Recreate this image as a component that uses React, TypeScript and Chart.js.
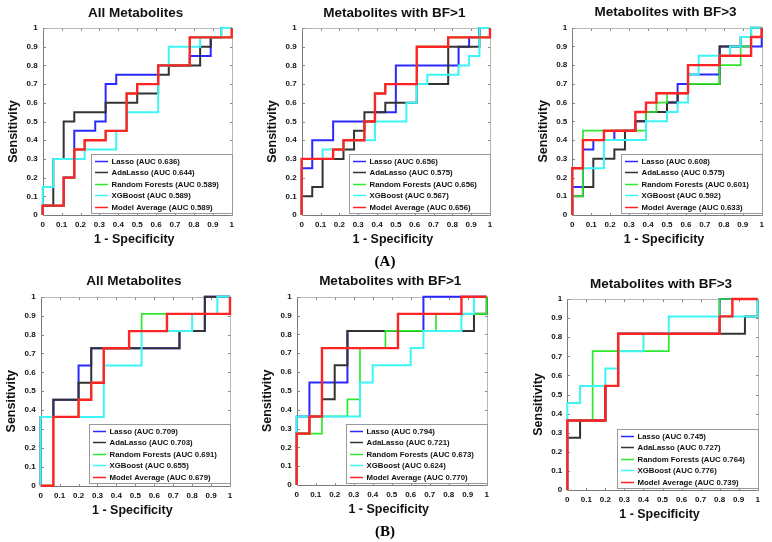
import React, { useEffect, useRef } from 'react';
import { Chart, registerables } from 'chart.js';

Chart.register(...registerables);

type Pt = [number, number];

// ---------- text / categories ----------
const TICK_LABELS = ['0', '0.1', '0.2', '0.3', '0.4', '0.5', '0.6', '0.7', '0.8', '0.9', '1'];
const MODEL_NAMES = ['Lasso', 'AdaLasso', 'Random Forests', 'XGBoost', 'Model Average'];
const PANEL_TITLES = [
  'All Metabolites', 'Metabolites with BF>1', 'Metabolites with BF>3',
  'All Metabolites', 'Metabolites with BF>1', 'Metabolites with BF>3',
];
const X_TITLE = '1 - Specificity';
const Y_TITLE = 'Sensitivity';

// ---------- AUC values (legend order) ----------
const AUC_A1 = [0.636, 0.644, 0.589, 0.589, 0.589];
const AUC_A2 = [0.656, 0.575, 0.656, 0.567, 0.656];
const AUC_A3 = [0.608, 0.575, 0.601, 0.592, 0.633];
const AUC_B1 = [0.709, 0.703, 0.691, 0.655, 0.679];
const AUC_B2 = [0.794, 0.721, 0.673, 0.624, 0.770];
const AUC_B3 = [0.745, 0.727, 0.764, 0.776, 0.739];

// ---------- ROC curves: [1 - specificity, sensitivity] ----------
// (A) All Metabolites
const A1_LASSO: Pt[] = [[0, 0], [0, 0.05], [0.111, 0.05], [0.111, 0.2], [0.167, 0.2], [0.167, 0.45], [0.278, 0.45], [0.278, 0.5], [0.333, 0.5], [0.333, 0.7], [0.389, 0.7], [0.389, 0.75], [0.611, 0.75], [0.611, 0.8], [0.778, 0.8], [0.778, 0.85], [0.889, 0.85], [0.889, 0.95], [0.944, 0.95], [0.944, 1], [1, 1]];
const A1_ADA: Pt[] = [[0, 0], [0, 0.05], [0.056, 0.05], [0.056, 0.3], [0.111, 0.3], [0.111, 0.5], [0.167, 0.5], [0.167, 0.55], [0.333, 0.55], [0.333, 0.6], [0.5, 0.6], [0.5, 0.65], [0.611, 0.65], [0.611, 0.75], [0.667, 0.75], [0.667, 0.8], [0.833, 0.8], [0.833, 0.9], [0.889, 0.9], [0.889, 0.95], [0.944, 0.95], [0.944, 1], [1, 1]];
const A1_RF: Pt[] = [[0, 0], [0, 0.05], [0.111, 0.05], [0.111, 0.2], [0.167, 0.2], [0.167, 0.35], [0.222, 0.35], [0.222, 0.4], [0.333, 0.4], [0.333, 0.45], [0.444, 0.45], [0.444, 0.65], [0.5, 0.65], [0.5, 0.7], [0.611, 0.7], [0.611, 0.8], [0.778, 0.8], [0.778, 0.95], [1, 0.95], [1, 1]];
const A1_XGB: Pt[] = [[0, 0], [0, 0.15], [0.056, 0.15], [0.056, 0.3], [0.222, 0.3], [0.222, 0.35], [0.389, 0.35], [0.389, 0.45], [0.444, 0.45], [0.444, 0.55], [0.611, 0.55], [0.611, 0.8], [0.667, 0.8], [0.667, 0.9], [0.833, 0.9], [0.833, 0.95], [0.944, 0.95], [0.944, 1], [1, 1]];
const A1_AVG: Pt[] = [[0, 0], [0, 0.05], [0.111, 0.05], [0.111, 0.2], [0.167, 0.2], [0.167, 0.35], [0.222, 0.35], [0.222, 0.4], [0.333, 0.4], [0.333, 0.45], [0.444, 0.45], [0.444, 0.65], [0.5, 0.65], [0.5, 0.7], [0.611, 0.7], [0.611, 0.8], [0.778, 0.8], [0.778, 0.95], [1, 0.95], [1, 1]];

// (A) BF>1
const A2_LASSO: Pt[] = [[0, 0], [0, 0.25], [0.056, 0.25], [0.056, 0.4], [0.167, 0.4], [0.167, 0.5], [0.389, 0.5], [0.389, 0.55], [0.5, 0.55], [0.5, 0.8], [0.833, 0.8], [0.833, 0.9], [0.889, 0.9], [0.889, 0.95], [0.944, 0.95], [0.944, 1], [1, 1]];
const A2_ADA: Pt[] = [[0, 0], [0, 0.1], [0.056, 0.1], [0.056, 0.15], [0.111, 0.15], [0.111, 0.3], [0.222, 0.3], [0.222, 0.35], [0.278, 0.35], [0.278, 0.45], [0.333, 0.45], [0.333, 0.55], [0.444, 0.55], [0.444, 0.6], [0.611, 0.6], [0.611, 0.7], [0.778, 0.7], [0.778, 0.9], [0.944, 0.9], [0.944, 1], [1, 1]];
const A2_RF: Pt[] = [[0, 0], [0, 0.3], [0.167, 0.3], [0.167, 0.35], [0.222, 0.35], [0.222, 0.4], [0.333, 0.4], [0.333, 0.5], [0.389, 0.5], [0.389, 0.65], [0.444, 0.65], [0.444, 0.7], [0.611, 0.7], [0.611, 0.9], [0.778, 0.9], [0.778, 0.95], [1, 0.95], [1, 1]];
const A2_XGB: Pt[] = [[0, 0], [0, 0.3], [0.111, 0.3], [0.111, 0.35], [0.222, 0.35], [0.222, 0.4], [0.389, 0.4], [0.389, 0.5], [0.556, 0.5], [0.556, 0.6], [0.611, 0.6], [0.611, 0.7], [0.667, 0.7], [0.667, 0.75], [0.833, 0.75], [0.833, 0.8], [0.889, 0.8], [0.889, 0.85], [0.944, 0.85], [0.944, 1], [1, 1]];
const A2_AVG: Pt[] = [[0, 0], [0, 0.3], [0.167, 0.3], [0.167, 0.35], [0.222, 0.35], [0.222, 0.4], [0.333, 0.4], [0.333, 0.5], [0.389, 0.5], [0.389, 0.65], [0.444, 0.65], [0.444, 0.7], [0.611, 0.7], [0.611, 0.9], [0.778, 0.9], [0.778, 0.95], [1, 0.95], [1, 1]];

// (A) BF>3
const A3_LASSO: Pt[] = [[0, 0], [0, 0.15], [0.056, 0.15], [0.056, 0.35], [0.111, 0.35], [0.111, 0.4], [0.222, 0.4], [0.222, 0.45], [0.333, 0.45], [0.333, 0.5], [0.389, 0.5], [0.389, 0.55], [0.5, 0.55], [0.5, 0.6], [0.556, 0.6], [0.556, 0.7], [0.611, 0.7], [0.611, 0.75], [0.778, 0.75], [0.778, 0.9], [1, 0.9], [1, 1]];
const A3_ADA: Pt[] = [[0, 0], [0, 0.1], [0.056, 0.1], [0.056, 0.15], [0.111, 0.15], [0.111, 0.3], [0.222, 0.3], [0.222, 0.35], [0.278, 0.35], [0.278, 0.45], [0.333, 0.45], [0.333, 0.5], [0.389, 0.5], [0.389, 0.55], [0.5, 0.55], [0.5, 0.6], [0.556, 0.6], [0.556, 0.65], [0.611, 0.65], [0.611, 0.7], [0.778, 0.7], [0.778, 0.9], [0.889, 0.9], [0.889, 0.95], [0.944, 0.95], [0.944, 1], [1, 1]];
const A3_RF: Pt[] = [[0, 0], [0, 0.1], [0.056, 0.1], [0.056, 0.45], [0.389, 0.45], [0.389, 0.55], [0.444, 0.55], [0.444, 0.6], [0.5, 0.6], [0.5, 0.65], [0.611, 0.65], [0.611, 0.7], [0.778, 0.7], [0.778, 0.8], [0.889, 0.8], [0.889, 0.9], [0.944, 0.9], [0.944, 0.95], [1, 0.95], [1, 1]];
const A3_XGB: Pt[] = [[0, 0], [0, 0.25], [0.167, 0.25], [0.167, 0.4], [0.389, 0.4], [0.389, 0.5], [0.5, 0.5], [0.5, 0.55], [0.556, 0.55], [0.556, 0.6], [0.611, 0.6], [0.611, 0.75], [0.667, 0.75], [0.667, 0.85], [0.833, 0.85], [0.833, 0.9], [0.889, 0.9], [0.889, 0.95], [0.944, 0.95], [0.944, 1], [1, 1]];
const A3_AVG: Pt[] = [[0, 0], [0, 0.25], [0.056, 0.25], [0.056, 0.4], [0.167, 0.4], [0.167, 0.45], [0.333, 0.45], [0.333, 0.55], [0.389, 0.55], [0.389, 0.6], [0.444, 0.6], [0.444, 0.65], [0.611, 0.65], [0.611, 0.8], [0.778, 0.8], [0.778, 0.85], [0.944, 0.85], [0.944, 0.95], [1, 0.95], [1, 1]];

// (B) All Metabolites
const B1_LASSO: Pt[] = [[0, 0], [0, 0.364], [0.067, 0.364], [0.067, 0.455], [0.2, 0.455], [0.2, 0.636], [0.267, 0.636], [0.267, 0.727], [0.733, 0.727], [0.733, 0.818], [0.867, 0.818], [0.867, 1], [1, 1]];
const B1_ADA: Pt[] = [[0, 0], [0, 0.364], [0.067, 0.364], [0.067, 0.455], [0.2, 0.455], [0.2, 0.545], [0.267, 0.545], [0.267, 0.727], [0.733, 0.727], [0.733, 0.818], [0.867, 0.818], [0.867, 1], [1, 1]];
const B1_RF: Pt[] = [[0, 0], [0.067, 0], [0.067, 0.364], [0.2, 0.364], [0.2, 0.455], [0.267, 0.455], [0.267, 0.545], [0.333, 0.545], [0.333, 0.727], [0.467, 0.727], [0.467, 0.818], [0.533, 0.818], [0.533, 0.909], [1, 0.909], [1, 1]];
const B1_XGB: Pt[] = [[0, 0], [0, 0.364], [0.333, 0.364], [0.333, 0.636], [0.533, 0.636], [0.533, 0.818], [0.8, 0.818], [0.8, 0.909], [0.933, 0.909], [0.933, 1], [1, 1]];
const B1_AVG: Pt[] = [[0, 0], [0.067, 0], [0.067, 0.364], [0.2, 0.364], [0.2, 0.455], [0.267, 0.455], [0.267, 0.545], [0.333, 0.545], [0.333, 0.727], [0.467, 0.727], [0.467, 0.818], [0.667, 0.818], [0.667, 0.909], [1, 0.909], [1, 1]];

// (B) BF>1
const B2_LASSO: Pt[] = [[0, 0], [0, 0.364], [0.067, 0.364], [0.067, 0.545], [0.267, 0.545], [0.267, 0.818], [0.667, 0.818], [0.667, 1], [1, 1]];
const B2_ADA: Pt[] = [[0, 0], [0, 0.273], [0.067, 0.273], [0.067, 0.364], [0.133, 0.364], [0.133, 0.455], [0.2, 0.455], [0.2, 0.636], [0.267, 0.636], [0.267, 0.818], [0.933, 0.818], [0.933, 0.909], [1, 0.909], [1, 1]];
const B2_RF: Pt[] = [[0, 0], [0, 0.273], [0.133, 0.273], [0.133, 0.364], [0.267, 0.364], [0.267, 0.455], [0.333, 0.455], [0.333, 0.727], [0.467, 0.727], [0.467, 0.818], [0.733, 0.818], [0.733, 0.909], [1, 0.909], [1, 1]];
const B2_XGB: Pt[] = [[0, 0], [0, 0.364], [0.333, 0.364], [0.333, 0.545], [0.4, 0.545], [0.4, 0.636], [0.6, 0.636], [0.6, 0.727], [0.667, 0.727], [0.667, 0.818], [0.867, 0.818], [0.867, 0.909], [0.933, 0.909], [0.933, 1], [1, 1]];
const B2_AVG: Pt[] = [[0, 0], [0, 0.273], [0.067, 0.273], [0.067, 0.364], [0.133, 0.364], [0.133, 0.727], [0.533, 0.727], [0.533, 0.909], [0.867, 0.909], [0.867, 1], [1, 1]];

// (B) BF>3
const B3_LASSO: Pt[] = [[0, 0], [0, 0.364], [0.2, 0.364], [0.2, 0.545], [0.267, 0.545], [0.267, 0.818], [0.8, 0.818], [0.8, 1], [1, 1]];
const B3_ADA: Pt[] = [[0, 0], [0, 0.273], [0.067, 0.273], [0.067, 0.364], [0.2, 0.364], [0.2, 0.545], [0.267, 0.545], [0.267, 0.818], [0.933, 0.818], [0.933, 0.909], [1, 0.909], [1, 1]];
const B3_RF: Pt[] = [[0, 0], [0, 0.364], [0.133, 0.364], [0.133, 0.727], [0.533, 0.727], [0.533, 0.818], [0.8, 0.818], [0.8, 1], [1, 1]];
const B3_XGB: Pt[] = [[0, 0], [0, 0.455], [0.067, 0.455], [0.067, 0.545], [0.2, 0.545], [0.2, 0.636], [0.267, 0.636], [0.267, 0.727], [0.4, 0.727], [0.4, 0.818], [0.533, 0.818], [0.533, 0.909], [1, 0.909], [1, 1]];
const B3_AVG: Pt[] = [[0, 0], [0, 0.364], [0.2, 0.364], [0.2, 0.545], [0.267, 0.545], [0.267, 0.818], [0.8, 0.818], [0.8, 0.909], [0.867, 0.909], [0.867, 1], [1, 1]];

// ---------- assembly ----------
const PANEL_CURVES: Pt[][][] = [
  [A1_LASSO, A1_ADA, A1_RF, A1_XGB, A1_AVG],
  [A2_LASSO, A2_ADA, A2_RF, A2_XGB, A2_AVG],
  [A3_LASSO, A3_ADA, A3_RF, A3_XGB, A3_AVG],
  [B1_LASSO, B1_ADA, B1_RF, B1_XGB, B1_AVG],
  [B2_LASSO, B2_ADA, B2_RF, B2_XGB, B2_AVG],
  [B3_LASSO, B3_ADA, B3_RF, B3_XGB, B3_AVG],
];
const PANEL_AUCS = [AUC_A1, AUC_A2, AUC_A3, AUC_B1, AUC_B2, AUC_B3];

// ---------- layout & style ----------
const W = 772;
const H = 542;
const Y_AXIS_W = 36;
const X_AXIS_H = 18;
// plot areas in page pixels: left, right, top, bottom
const PLOT_AREAS = [
  { l: 42.7, r: 231.7, t: 28, b: 215 },
  { l: 301.7, r: 490, t: 28, b: 215 },
  { l: 572.3, r: 761.7, t: 27.7, b: 215 },
  { l: 40.7, r: 230, t: 296.7, b: 485.7 },
  { l: 296.7, r: 486.7, t: 296.7, b: 485 },
  { l: 567.3, r: 757.7, t: 299, b: 490 },
];
const MODEL_COLORS = ['#2a2aff', '#333333', '#2ee82e', '#3ef5f5', '#ff2424'];
const MODEL_WIDTHS = [2, 2, 1.7, 2, 2.4];
const SANS = "'Liberation Sans', Arial, Helvetica, sans-serif";

const decoPlugin = {
  id: 'deco',
  beforeDatasetsDraw(chart: any) {
    const { ctx, chartArea: a, scales } = chart;
    ctx.save();
    const L = Math.round(a.left) + 0.5, R = Math.round(a.right) + 0.5;
    const T = Math.round(a.top) + 0.5, B = Math.round(a.bottom) + 0.5;
    ctx.lineWidth = 1;
    ctx.strokeStyle = '#b8b8b8';
    ctx.beginPath();
    ctx.moveTo(L, T); ctx.lineTo(R, T); ctx.lineTo(R, B);
    ctx.stroke();
    ctx.strokeStyle = '#7a7a7a';
    ctx.beginPath();
    ctx.moveTo(L, T); ctx.lineTo(L, B); ctx.lineTo(R, B);
    ctx.stroke();
    // inward tick marks on all four sides
    ctx.strokeStyle = '#8a8a8a';
    ctx.beginPath();
    const tl = 2.5;
    scales.x.ticks.forEach((t: any) => {
      const px = Math.round(scales.x.getPixelForValue(t.value)) + 0.5;
      ctx.moveTo(px, B); ctx.lineTo(px, B - tl);
      ctx.moveTo(px, T); ctx.lineTo(px, T + tl);
    });
    scales.y.ticks.forEach((t: any) => {
      const py = Math.round(scales.y.getPixelForValue(t.value)) + 0.5;
      ctx.moveTo(L, py); ctx.lineTo(L + tl, py);
      ctx.moveTo(R, py); ctx.lineTo(R - tl, py);
    });
    ctx.stroke();
    ctx.restore();
  },
  afterDatasetsDraw(chart: any, _args: any, opts: any) {
    const { ctx, chartArea: a } = chart;
    ctx.save();
    // legend box (bottom-right inside axes)
    const lw = 141, lh = 59;
    const lx = Math.round(a.right - lw) + 0.5;
    const ly = Math.round(a.bottom - 2.5 - lh) + 0.5;
    ctx.fillStyle = '#ffffff';
    ctx.fillRect(lx, ly, lw, lh);
    ctx.strokeStyle = '#9a9a9a';
    ctx.lineWidth = 1;
    ctx.strokeRect(lx, ly, lw, lh);
    ctx.font = `bold 7.8px ${SANS}`;
    ctx.textBaseline = 'middle';
    ctx.textAlign = 'left';
    chart.data.datasets.forEach((ds: any, i: number) => {
      const y = Math.round(ly + 6.3 + i * 11.45) + 0.5;
      ctx.strokeStyle = ds.borderColor;
      ctx.lineWidth = 1.5;
      ctx.beginPath();
      ctx.moveTo(lx + 3.5, y); ctx.lineTo(lx + 16.5, y);
      ctx.stroke();
      ctx.fillStyle = '#111';
      ctx.fillText(ds.label, lx + 20, y + 0.5);
    });
    // title
    ctx.fillStyle = '#111';
    ctx.textAlign = 'center';
    ctx.font = `bold 13.5px ${SANS}`;
    ctx.fillText(opts.title, (a.left + a.right) / 2 - 1.5, a.top - 15);
    // x axis title
    ctx.font = `bold 12.5px ${SANS}`;
    ctx.fillText(X_TITLE, (a.left + a.right) / 2 - 3, a.bottom + 24.5);
    // y axis title
    ctx.translate(a.left - 29, (a.top + a.bottom) / 2 + 10);
    ctx.rotate(-Math.PI / 2);
    ctx.fillText(Y_TITLE, 0, 0);
    ctx.restore();
  },
};

function makeConfig(idx: number): any {
  const area = PLOT_AREAS[idx];
  const curves = PANEL_CURVES[idx];
  const aucs = PANEL_AUCS[idx];
  const tickFont = { family: SANS, weight: 'bold' as const, size: 8 };
  const tickCb = (v: any) => TICK_LABELS[Math.round(Number(v) * 10)] ?? '';
  return {
    type: 'scatter',
    data: {
      datasets: MODEL_NAMES.map((name, i) => ({
        label: `${name} (AUC ${aucs[i].toFixed(3)})`,
        data: curves[i].map(([x, y]) => ({ x, y })),
        showLine: true,
        borderColor: MODEL_COLORS[i],
        backgroundColor: MODEL_COLORS[i],
        borderWidth: MODEL_WIDTHS[i],
        pointRadius: 0,
        pointHoverRadius: 0,
        tension: 0,
        fill: false,
        order: 4 - i,
        clip: false,
      })),
    },
    options: {
      responsive: false,
      animation: false,
      events: [],
      layout: {
        padding: {
          left: area.l - Y_AXIS_W,
          top: area.t,
          right: W - area.r,
          bottom: H - area.b - X_AXIS_H,
        },
      },
      scales: {
        x: {
          type: 'linear',
          min: 0,
          max: 1,
          grid: { display: false, drawTicks: false },
          border: { display: false },
          ticks: { stepSize: 0.1, autoSkip: false, maxRotation: 0, minRotation: 0, padding: 5, color: '#111', font: tickFont, callback: tickCb },
          afterFit: (s: any) => { s.height = X_AXIS_H; },
        },
        y: {
          type: 'linear',
          min: 0,
          max: 1,
          grid: { display: false, drawTicks: false },
          border: { display: false },
          ticks: { stepSize: 0.1, autoSkip: false, padding: 5, color: '#111', font: tickFont, callback: tickCb },
          afterFit: (s: any) => { s.width = Y_AXIS_W; },
        },
      },
      plugins: {
        legend: { display: false },
        tooltip: { enabled: false },
        title: { display: false },
        deco: { title: PANEL_TITLES[idx] },
      },
    },
    plugins: [decoPlugin],
  };
}

function Panel({ idx }: { idx: number }) {
  const ref = useRef<HTMLCanvasElement>(null);
  useEffect(() => {
    const chart = new Chart(ref.current as HTMLCanvasElement, makeConfig(idx));
    return () => chart.destroy();
  }, [idx]);
  return (
    <canvas
      ref={ref}
      width={W}
      height={H}
      style={{ position: 'absolute', left: 0, top: 0, width: W, height: H }}
    />
  );
}

const PART_LABELS = [
  { text: '(A)', x: 385, y: 261 },
  { text: '(B)', x: 385, y: 531 },
];

export default function App() {
  return (
    <div style={{ position: 'fixed', left: 0, top: 0, width: W, height: H, background: '#fff', overflow: 'hidden' }}>
      {PANEL_TITLES.map((_, i) => (
        <Panel key={i} idx={i} />
      ))}
      {PART_LABELS.map((p) => (
        <div
          key={p.text}
          style={{
            position: 'absolute',
            left: p.x,
            top: p.y,
            transform: 'translate(-50%, -50%)',
            fontFamily: "'Liberation Serif', 'Times New Roman', serif",
            fontWeight: 'bold',
            fontSize: 15,
            lineHeight: 1,
            color: '#000',
          }}
        >
          {p.text}
        </div>
      ))}
    </div>
  );
}
